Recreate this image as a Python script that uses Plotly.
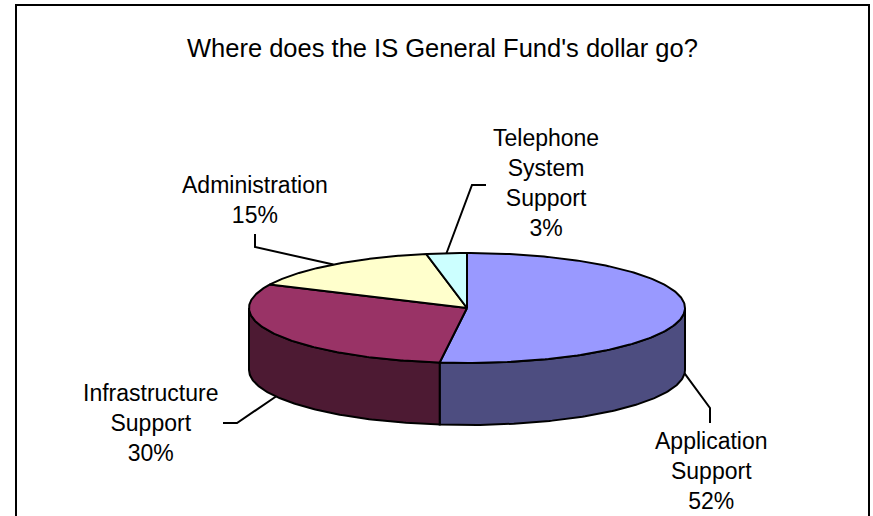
import numpy as np
import plotly.graph_objects as go

# ---- data ----
categories = ["Application<br>Support", "Infrastructure<br>Support",
              "Administration", "Telephone<br>System<br>Support"]
shares = [52, 30, 15, 3]
title_text = "Where does the IS General Fund's dollar go?"

# ---- styling ----
top_colors = ["#9999FF", "#993366", "#FFFFCC", "#CCFFFF"]
side_colors = ["#4D4D80", "#4D1A33", "#80806A", "#668080"]
FONT = "Arial, Liberation Sans, sans-serif"

# ---- geometry of the tilted pie (page pixels) ----
W, H = 873, 516
cx, cy = 467, 308      # centre of the top face
rx, ry = 218, 55       # radii of the top face
depth = 62             # thickness of the pie

# label centres and leader-line elbows / ends
label_xy = [(711, 471), (151, 423), (255, 200), (546, 183)]
leader_elbow = [(710, 408), (237, 423), (255, 247), (472, 185)]
leader_end = [(710, 423), (223, 423), (255, 234), (486, 185)]


def ell(theta_deg, dy=0.0):
    t = np.radians(theta_deg)
    return cx + rx * np.cos(t), cy - ry * np.sin(t) + dy


fig = go.Figure()

# slice angles: start at 12 o'clock, run clockwise
total = float(sum(shares))
bounds = [90.0]
for s in shares:
    bounds.append(bounds[-1] - 360.0 * s / total)

# outer walls (front half only), drawn beneath the top faces
for i in range(len(shares)):
    a_hi, a_lo = bounds[i], bounds[i + 1]
    for k in (-1, 0, 1):
        f_lo, f_hi = -180 + 360 * k, 0 + 360 * k
        lo, hi = max(a_lo, f_lo), min(a_hi, f_hi)
        if hi - lo <= 0.01:
            continue
        th = np.linspace(hi, lo, 120)
        xt, yt = ell(th)
        xb, yb = ell(th[::-1], depth)
        xs = np.concatenate([xt, xb, xt[:1]])
        ys = np.concatenate([yt, yb, yt[:1]])
        fig.add_trace(go.Scatter(x=xs, y=ys, mode="lines", fill="toself",
                                 fillcolor=side_colors[i],
                                 line=dict(color="black", width=2),
                                 hoverinfo="skip"))

# top faces
for i in range(len(shares)):
    th = np.linspace(bounds[i], bounds[i + 1], 200)
    xa, ya = ell(th)
    xs = np.concatenate([[cx], xa, [cx]])
    ys = np.concatenate([[cy], ya, [cy]])
    fig.add_trace(go.Scatter(x=xs, y=ys, mode="lines", fill="toself",
                             fillcolor=top_colors[i],
                             line=dict(color="black", width=2),
                             hoverinfo="skip"))

# leader lines and labels
for i in range(len(shares)):
    mid = (bounds[i] + bounds[i + 1]) / 2.0
    front = np.sin(np.radians(mid)) < 0
    ax_, ay_ = ell(mid, depth if front else 0.0)
    ex, ey = leader_elbow[i]
    tx, ty = leader_end[i]
    fig.add_trace(go.Scatter(x=[ax_, ex, tx], y=[ay_, ey, ty], mode="lines",
                             line=dict(color="black", width=2),
                             hoverinfo="skip"))
    lx, ly = label_xy[i]
    fig.add_annotation(x=lx, y=ly, xref="x", yref="y",
                       text=f"{categories[i]}<br>{shares[i]}%",
                       showarrow=False, xanchor="center", yanchor="middle",
                       align="center",
                       font=dict(family=FONT, size=23, color="black"))

# chart border (runs off the bottom of the page)
fig.add_trace(go.Scatter(x=[16, 16, 869, 869], y=[560, 5, 5, 560],
                         mode="lines", line=dict(color="black", width=2),
                         hoverinfo="skip"))

fig.add_annotation(x=442, y=48, xref="x", yref="y", text=title_text,
                   showarrow=False, xanchor="center", yanchor="middle",
                   font=dict(family=FONT, size=25.5, color="black"))

fig.update_layout(
    width=W, height=H,
    margin=dict(l=0, r=0, t=0, b=0),
    paper_bgcolor="white", plot_bgcolor="white",
    showlegend=False, hovermode=False,
    xaxis=dict(range=[0, W], visible=False, fixedrange=True),
    yaxis=dict(range=[H, 0], visible=False, fixedrange=True),
)

fig.write_html("out.html", config={"displayModeBar": False})
